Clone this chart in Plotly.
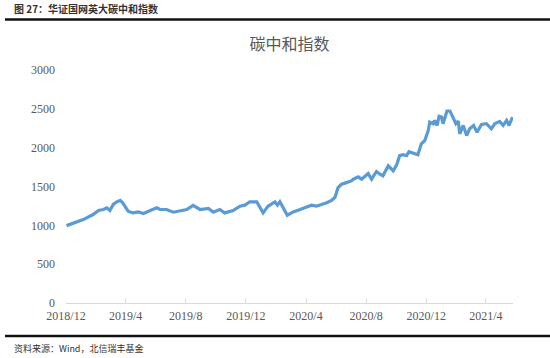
import plotly.graph_objects as go

dates = [
    "2018-12-02", "2018-12-16", "2019-01-05", "2019-01-25", "2019-02-05", "2019-02-15",
    "2019-02-22", "2019-02-28", "2019-03-07", "2019-03-14", "2019-03-21", "2019-03-26",
    "2019-03-31", "2019-04-06", "2019-04-16", "2019-04-27", "2019-05-07", "2019-05-20",
    "2019-06-03", "2019-06-10", "2019-06-23", "2019-07-07", "2019-07-20", "2019-08-03",
    "2019-08-16", "2019-08-30", "2019-09-16", "2019-09-26", "2019-10-09", "2019-10-19",
    "2019-11-05", "2019-11-19", "2019-11-29", "2019-12-09", "2019-12-23", "2020-01-05",
    "2020-01-15", "2020-01-29", "2020-02-03", "2020-02-08", "2020-02-23", "2020-03-06",
    "2020-03-20", "2020-03-30", "2020-04-12", "2020-04-22", "2020-05-03", "2020-05-13",
    "2020-05-23", "2020-05-30", "2020-06-05", "2020-06-12", "2020-06-22", "2020-07-02",
    "2020-07-06", "2020-07-16", "2020-07-23", "2020-07-29", "2020-08-05", "2020-08-12",
    "2020-08-22", "2020-08-29", "2020-09-04", "2020-09-15", "2020-09-25", "2020-10-02",
    "2020-10-08", "2020-10-15", "2020-10-22", "2020-10-27", "2020-11-04", "2020-11-14",
    "2020-11-21", "2020-11-28", "2020-12-05", "2020-12-08", "2020-12-15", "2020-12-18",
    "2020-12-23", "2020-12-27", "2021-01-01", "2021-01-04", "2021-01-12", "2021-01-18",
    "2021-01-24", "2021-01-30", "2021-02-04", "2021-02-07", "2021-02-14", "2021-02-21",
    "2021-02-27", "2021-03-07", "2021-03-14", "2021-03-23", "2021-04-02", "2021-04-12",
    "2021-04-19", "2021-04-29", "2021-05-06", "2021-05-13", "2021-05-18", "2021-05-25",
]
values = [
    996, 1030, 1074, 1139, 1191, 1204,
    1225, 1191, 1269, 1303, 1321, 1290,
    1247, 1182, 1160, 1173, 1152, 1182,
    1225, 1204, 1204, 1169, 1182, 1204,
    1256, 1204, 1217, 1169, 1204, 1160,
    1191, 1247, 1260, 1303, 1303, 1160,
    1247, 1303, 1260, 1303, 1130, 1173,
    1204, 1225, 1260, 1247, 1269, 1290,
    1321, 1364, 1485, 1529, 1550, 1572,
    1594, 1624, 1594, 1624, 1667, 1594,
    1693, 1659, 1637, 1767, 1702, 1780,
    1897, 1910, 1897, 1949, 1927, 1910,
    2049, 2092, 2221, 2329, 2308, 2351,
    2286, 2403, 2394, 2308, 2472, 2472,
    2394, 2308, 2342, 2178, 2286, 2156,
    2243, 2286, 2199, 2299, 2308, 2243,
    2308, 2338, 2286, 2351, 2286, 2394,
]
tick_dates = ["2018-12-01", "2019-04-01", "2019-08-01", "2019-12-01",
              "2020-04-01", "2020-08-01", "2020-12-01", "2021-04-01"]
tick_labels = ["2018/12", "2019/4", "2019/8", "2019/12",
               "2020/4", "2020/8", "2020/12", "2021/4"]
y_ticks = [0, 500, 1000, 1500, 2000, 2500, 3000]

title_text = "碳中和指数"
header_text = "图 27：华证国网英大碳中和指数"
source_text = "资料来源：Wind，北信瑞丰基金"

SERIF = "Liberation Serif, Noto Sans CJK SC"
CJK = "Noto Sans CJK SC"

fig = go.Figure()
fig.add_trace(go.Scatter(
    x=dates, y=values, mode="lines",
    line=dict(color="#5B9BD5", width=3.2),
    showlegend=False, hoverinfo="skip",
))

# plot area in pixels: x 66..513, y 70..303
L, R, T, B = 66, 513, 70, 303
W, H = R - L, B - T


def px(p):
    return (p - L) / W


def py(q):
    return (B - q) / H


fig.update_layout(
    width=550, height=358,
    margin=dict(l=L, r=550 - R, t=T, b=358 - B),
    paper_bgcolor="white", plot_bgcolor="white",
    title=dict(text=title_text, x=0.5, xanchor="center", xref="paper",
               y=1 - 44 / 358, yanchor="middle", yref="container",
               font=dict(family=CJK, size=16, color="#595959")),
    xaxis=dict(
        type="date", range=["2018-12-01", "2021-05-26"],
        tickvals=tick_dates, ticktext=tick_labels,
        ticks="inside", ticklen=4, tickcolor="#D9D9D9", tickwidth=1,
        showline=True, linecolor="#D9D9D9", linewidth=1,
        showgrid=False, zeroline=False,
        tickfont=dict(family=SERIF, size=12, color="#595959"),
        ticklabelstandoff=2,
    ),
    yaxis=dict(
        range=[0, 3000], tickvals=y_ticks,
        showline=False, showgrid=False, zeroline=False,
        ticks="", ticklabelstandoff=10,
        tickfont=dict(family=SERIF, size=12, color="#595959"),
    ),
    shapes=[
        dict(type="line", xref="paper", yref="paper",
             x0=px(5), x1=px(552), y0=py(19.5), y1=py(19.5),
             line=dict(color="#111111", width=2.5)),
        dict(type="line", xref="paper", yref="paper",
             x0=px(5), x1=px(552), y0=py(336), y1=py(336),
             line=dict(color="#111111", width=2.5)),
    ],
    annotations=[
        dict(text="<b>" + header_text + "</b>", xref="paper", yref="paper",
             x=px(12), y=py(8.5), xanchor="left", yanchor="middle",
             showarrow=False, font=dict(family=CJK, size=10, color="#333333")),
        dict(text=source_text, xref="paper", yref="paper",
             x=px(12), y=py(348), xanchor="left", yanchor="middle",
             showarrow=False, font=dict(family=CJK, size=9, color="#333333")),
    ],
)

fig.write_html("out.html", config={"displayModeBar": False},
               post_script="document.body.style.margin='0';")
